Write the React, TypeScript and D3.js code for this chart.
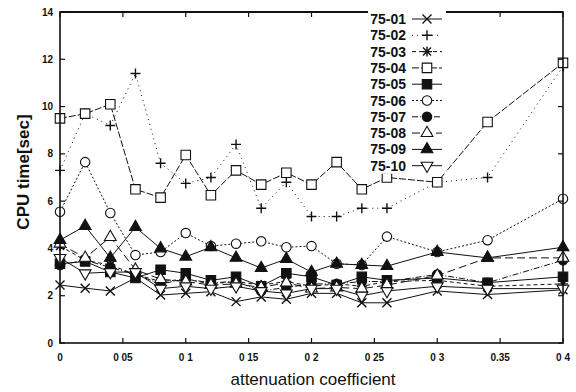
import React from 'react';
import * as d3 from 'd3';

// attenuation coefficient values (x)
const coefficients = [0, 0.02, 0.04, 0.06, 0.08, 0.1, 0.12, 0.14, 0.16, 0.18, 0.2, 0.22, 0.24, 0.26, 0.3, 0.34, 0.4];

const s7501 = [2.45, 2.32, 2.2, 2.75, 2.03, 2.1, 2.17, 1.75, 1.95, 1.85, 2.1, 2.1, 1.7, 1.7, 2.2, 2.05, 2.25];
const s7502 = [7.3, 9.7, 9.2, 11.4, 7.6, 6.75, 7.0, 8.4, 5.7, 6.8, 5.35, 5.35, 5.7, 5.7, 6.8, 7.0, 11.7];
const s7503 = [4.1, 3.5, 3.3, 2.9, 2.6, 2.7, 2.5, 2.6, 2.45, 2.6, 2.4, 2.5, 2.4, 2.6, 2.65, 2.4, 2.5];
const s7504 = [9.5, 9.7, 10.1, 6.5, 6.15, 7.95, 6.25, 7.3, 6.7, 7.2, 6.7, 7.65, 6.5, 7.0, 6.8, 9.35, 11.85];
const s7505 = [3.35, 3.45, 3.0, 2.75, 3.1, 2.95, 2.65, 2.8, 2.4, 2.95, 2.8, 2.45, 2.8, 2.65, 2.75, 2.55, 2.8];
const s7506 = [5.55, 7.65, 5.5, 3.72, 3.85, 4.65, 4.1, 4.2, 4.3, 4.05, 4.1, 3.35, 3.3, 4.5, 3.85, 4.35, 6.1];
const s7507 = [3.3, 3.5, 3.2, 2.9, 2.5, 2.7, 2.55, 2.6, 2.2, 2.35, 2.5, 2.5, 2.6, 2.6, 2.9, 2.55, 3.5];
const s7508 = [4.2, 3.6, 4.48, 3.1, 2.7, 2.6, 2.45, 2.5, 2.35, 2.55, 2.3, 2.35, 2.3, 2.45, 2.85, 3.6, 3.6];
const s7509 = [4.35, 4.95, 3.6, 4.9, 4.0, 3.65, 4.05, 3.6, 3.17, 3.55, 3.0, 3.35, 3.3, 3.25, 3.85, 3.6, 4.05];
const s7510 = [3.6, 2.95, 3.0, 3.0, 2.3, 2.4, 2.3, 2.4, 2.2, 2.1, 2.3, 2.3, 2.0, 2.2, 2.4, 2.3, 2.3];

const seriesNames = ['75-01', '75-02', '75-03', '75-04', '75-05', '75-06', '75-07', '75-08', '75-09', '75-10'];
const seriesValues = [s7501, s7502, s7503, s7504, s7505, s7506, s7507, s7508, s7509, s7510];

const xTicks = [0, 0.05, 0.1, 0.15, 0.2, 0.25, 0.3, 0.35, 0.4];
const xTickLabels = ['0', '0 05', '0 1', '0 15', '0 2', '0 25', '0 3', '0.35', '0 4'];
const yTicks = [0, 2, 4, 6, 8, 10, 12, 14];

// marker type + line dash per series
const markers = ['x', 'plus', 'star', 'square', 'fsquare', 'circle', 'fcircle', 'tri', 'ftri', 'dtri'];
const dashes = ['', '1,4', '4,3', '7,2', '', '2,2', '6,2,1,2', '8,4', '', ''];

const FONT = '"Liberation Sans", Arial, Helvetica, sans-serif';

const Marker = ({ type, x, y }: { type: string; x: number; y: number }) => {
  const s = 4.5;
  const common = { stroke: '#111', strokeWidth: 1.4 };
  if (type === 'x')
    return <path d={`M${x - s},${y - s}L${x + s},${y + s}M${x - s},${y + s}L${x + s},${y - s}`} {...common} fill="none" />;
  if (type === 'plus')
    return <path d={`M${x - 5},${y}L${x + 5},${y}M${x},${y - 5}L${x},${y + 5}`} {...common} fill="none" />;
  if (type === 'star')
    return (
      <path
        d={`M${x - 5},${y}L${x + 5},${y}M${x},${y - 5}L${x},${y + 5}M${x - 4},${y - 4}L${x + 4},${y + 4}M${x - 4},${y + 4}L${x + 4},${y - 4}`}
        {...common}
        fill="none"
      />
    );
  const sym =
    type === 'square' || type === 'fsquare'
      ? d3.symbolSquare
      : type === 'circle' || type === 'fcircle'
      ? d3.symbolCircle
      : d3.symbolTriangle;
  const size = type.includes('square') ? 90 : type.includes('circle') ? 70 : 60;
  const filled = type.startsWith('f');
  const path = d3.symbol().type(sym).size(size)() || '';
  const rot = type === 'dtri' ? 180 : 0;
  return (
    <path
      d={path}
      transform={`translate(${x},${y}) rotate(${rot})`}
      fill={filled ? '#111' : '#fff'}
      stroke="#111"
      strokeWidth={1.1}
    />
  );
};

const App = () => {
  const width = 576;
  const height = 392;
  const x = d3.scaleLinear().domain([0, 0.4]).range([60, 563]);
  const y = d3.scaleLinear().domain([0, 14]).range([343, 12]);
  const line = d3
    .line<number>()
    .x((_, i) => x(coefficients[i]))
    .y((d) => y(d));

  const legendX = 406;
  const legendY0 = 19;
  const legendStep = 16.3;

  return (
    <svg
      width={width}
      height={height}
      style={{ position: 'absolute', left: 0, top: 0, background: '#fff' }}
      fontFamily={FONT}
    >
      <rect width={width} height={height} fill="#fff" />

      {/* series */}
      {seriesValues.map((vals, si) => (
        <g key={seriesNames[si]}>
          <path d={line(vals) || ''} fill="none" stroke="#111" strokeWidth={1} strokeDasharray={dashes[si]} />
          {vals.map((v, i) => (
            <Marker key={i} type={markers[si]} x={x(coefficients[i])} y={y(v)} />
          ))}
        </g>
      ))}

      {/* frame */}
      <rect x={60} y={12} width={503} height={331} fill="none" stroke="#111" strokeWidth={1.6} />
      <line x1={60} x2={563} y1={12} y2={12} stroke="#111" strokeWidth={2.2} />

      {/* x ticks */}
      {xTicks.map((t, i) => (
        <g key={t}>
          <line x1={x(t)} x2={x(t)} y1={343} y2={338} stroke="#111" strokeWidth={1.2} />
          <line x1={x(t)} x2={x(t)} y1={12} y2={17} stroke="#111" strokeWidth={1.2} />
          <text x={x(t)} y={361} textAnchor="middle" fontSize={10} fontWeight="bold" fill="#111">
            {xTickLabels[i]}
          </text>
        </g>
      ))}

      {/* y ticks */}
      {yTicks.map((t) => (
        <g key={t}>
          <line x1={60} x2={65} y1={y(t)} y2={y(t)} stroke="#111" strokeWidth={1.2} />
          <line x1={563} x2={558} y1={y(t)} y2={y(t)} stroke="#111" strokeWidth={1.2} />
          <text x={53} y={y(t) + 3.5} textAnchor="end" fontSize={10} fontWeight="bold" fill="#111">
            {t}
          </text>
        </g>
      ))}

      {/* axis titles */}
      <text
        transform={`translate(29,172) rotate(-90)`}
        textAnchor="middle"
        fontSize={17}
        fontWeight="bold"
        fill="#111"
      >
        CPU time[sec]
      </text>
      <text x={313} y={385} textAnchor="middle" fontSize={17} fill="#111">
        attenuation coefficient
      </text>

      {/* legend */}
      {seriesNames.map((name, i) => {
        const ly = legendY0 + i * legendStep;
        return (
          <g key={name}>
            <rect x={368} y={ly - 8} width={78} height={16} fill="#fff" />
            <text x={legendX} y={ly + 5} textAnchor="end" fontSize={14} fontWeight="bold" fill="#111">
              {name}
            </text>
            <line x1={412} x2={442} y1={ly} y2={ly} stroke="#111" strokeWidth={1} strokeDasharray={dashes[i]} />
            <Marker type={markers[i]} x={427} y={ly} />
          </g>
        );
      })}
    </svg>
  );
};

export default App;
